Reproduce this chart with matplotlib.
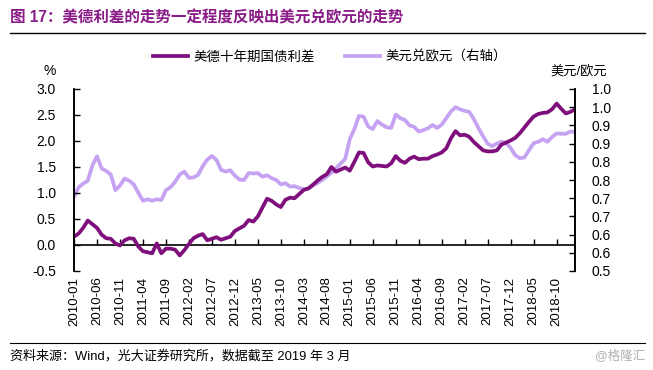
import matplotlib
matplotlib.use("Agg")
import matplotlib.pyplot as plt
import pandas as pd

plt.rcParams['font.family'] = ['Liberation Sans', 'Noto Sans CJK SC', 'DejaVu Sans']

months = [p.strftime('%Y-%m') for p in pd.period_range('2010-01', '2019-02', freq='M')]

spread = [0.16, 0.22, 0.33, 0.47, 0.40, 0.33, 0.20, 0.13, 0.12, 0.03,
          -0.01, 0.09, 0.13, 0.12, -0.03, -0.12, -0.14, -0.16, 0.03, -0.16,
          -0.07, -0.07, -0.09, -0.20, -0.10, 0.02, 0.13, 0.18, 0.21, 0.09,
          0.12, 0.15, 0.10, 0.13, 0.16, 0.27, 0.32, 0.37, 0.48, 0.45,
          0.55, 0.72, 0.89, 0.85, 0.78, 0.73, 0.87, 0.91, 0.90, 0.98,
          1.06, 1.09, 1.16, 1.24, 1.31, 1.36, 1.50, 1.41, 1.45, 1.49,
          1.43, 1.60, 1.78, 1.77, 1.59, 1.51, 1.53, 1.52, 1.51, 1.57,
          1.71, 1.62, 1.58, 1.66, 1.70, 1.65, 1.66, 1.66, 1.71, 1.74,
          1.78, 1.86, 2.05, 2.19, 2.11, 2.12, 2.08, 1.98, 1.90, 1.82,
          1.80, 1.80, 1.82, 1.93, 1.97, 2.01, 2.06, 2.15, 2.26, 2.37,
          2.47, 2.52, 2.54, 2.55, 2.61, 2.72, 2.62, 2.53, 2.56, 2.61]

usd_eur = [0.704, 0.730, 0.740, 0.748, 0.790, 0.815, 0.782, 0.775, 0.765, 0.722,
           0.735, 0.754, 0.748, 0.738, 0.715, 0.693, 0.697, 0.693, 0.697, 0.695,
           0.722, 0.730, 0.745, 0.765, 0.773, 0.756, 0.757, 0.764, 0.788, 0.806,
           0.816, 0.805, 0.778, 0.773, 0.777, 0.762, 0.751, 0.750, 0.769, 0.768,
           0.769, 0.759, 0.763, 0.755, 0.750, 0.738, 0.741, 0.732, 0.733, 0.728,
           0.724, 0.726, 0.735, 0.742, 0.750, 0.760, 0.770, 0.782, 0.795, 0.808,
           0.862, 0.890, 0.926, 0.924, 0.897, 0.890, 0.912, 0.902, 0.895, 0.893,
           0.930, 0.920, 0.915, 0.900, 0.896, 0.883, 0.887, 0.892, 0.901, 0.893,
           0.902, 0.920, 0.938, 0.950, 0.944, 0.940, 0.937, 0.917, 0.893, 0.870,
           0.850, 0.843, 0.850, 0.855, 0.852, 0.838, 0.818, 0.810, 0.812, 0.832,
           0.851, 0.855, 0.862, 0.855, 0.868, 0.878, 0.877, 0.877, 0.883, 0.882]

left_ticks = [-0.5, 0.0, 0.5, 1.0, 1.5, 2.0, 2.5, 3.0]
right_ticks = [0.5, 0.55, 0.6, 0.65, 0.7, 0.75, 0.8, 0.85, 0.9, 0.95, 1.0]
right_labels = ['0.5', '0.6', '0.6', '0.7', '0.7', '0.8', '0.8', '0.9', '0.9', '1.0', '1.0']

label1 = '美德十年期国债利差'
label2 = '美元兑欧元（右轴）'
title = '图 17：美德利差的走势一定程度反映出美元兑欧元的走势'
source = '资料来源：Wind，光大证券研究所，数据截至 2019 年 3 月'

c_dark = '#7E0F7C'
c_light = '#C6A2F2'
title_color = '#8A1C87'

fig = plt.figure(figsize=(6.53, 3.70), dpi=100)
ax = fig.add_axes([74/653, 1-271/370, (575-74)/653, (271-89)/370])
ax2 = ax.twinx()

x = list(range(len(months)))
l2, = ax2.plot(x, usd_eur, color=c_light, lw=2.7, solid_joinstyle='round', label=label2)
l1, = ax.plot(x, spread, color=c_dark, lw=2.7, solid_joinstyle='round', label=label1)
ax.set_zorder(ax2.get_zorder() + 1)
ax.patch.set_visible(False)

ax.set_xlim(0, len(months) - 1)
ax.set_ylim(-0.5, 3.0)
ax2.set_ylim(0.5, 1.0)
ax.set_yticks(left_ticks)
ax.set_yticklabels([f'{v:.1f}' for v in left_ticks])
ax2.set_yticks(right_ticks)
ax2.set_yticklabels(right_labels)

xt = x[::5]
ax.set_xticks(xt)
ax.set_xticklabels([months[i] for i in xt], rotation=90, fontsize=9.5)
ax.tick_params(axis='x', length=0, pad=4)
ax.tick_params(axis='y', direction='in', length=4, width=1, labelsize=10, pad=13)
ax2.tick_params(axis='y', direction='in', length=4, width=1, labelsize=10, pad=12)

for a in (ax, ax2):
    a.spines['top'].set_visible(False)
    a.spines['bottom'].set_visible(False)
    a.spines['left'].set_linewidth(1.2)
    a.spines['right'].set_linewidth(1.2)

sec = ax.secondary_xaxis(1/7)
sec.set_xticks(xt)
sec.tick_params(axis='x', direction='in', length=4, width=1, labelbottom=False, labeltop=False)
sec.spines['bottom'].set_linewidth(1.2)
sec.spines['top'].set_linewidth(1.2)

fig.text(50/653, 1-71/370, '%', ha='center', va='center', fontsize=10)
fig.text(579/653, 1-71/370, '美元/欧元', ha='center', va='center', fontsize=9.5)

fig.legend(handles=[l1, l2], loc='center', bbox_to_anchor=(0.505, 1-57/370), ncol=2,
           frameon=False, fontsize=9.7, handlelength=2.6, handletextpad=0.4,
           columnspacing=2.2)

fig.text(10/653, 1-18/370, title, ha='left', va='center', fontsize=11.2,
         fontweight='bold', color=title_color)
fig.add_artist(plt.Line2D([10/653, 645/653], [1-33/370, 1-33/370], color='black', lw=1))
fig.add_artist(plt.Line2D([10/653, 645/653], [1-343/370, 1-343/370], color='black', lw=0.8))
fig.text(10/653, 1-356/370, source, ha='left', va='center', fontsize=9.4)
fig.text(645/653, 1-356/370, '@格隆汇', ha='right', va='center', fontsize=9, color='#B0B0B0')

fig.savefig('out.png', dpi=100)
